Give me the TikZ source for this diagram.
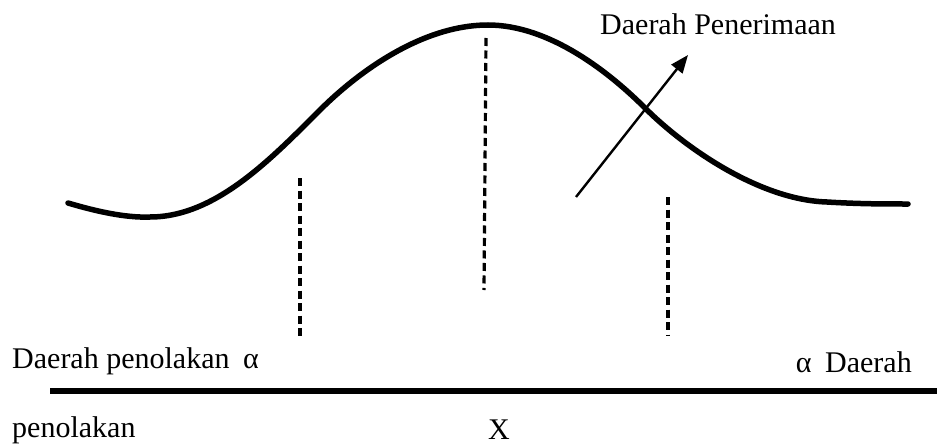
\documentclass[tikz,border=0pt]{standalone}
\usepackage{fontspec}
\setmainfont{Liberation Serif}
\usetikzlibrary{arrows.meta}
\tikzset{
  lbl/.style={inner sep=0pt, font=\fontsize{30}{36}\selectfont},
  curve/.style={line width=5.5pt, line cap=round},
  guide/.style={line width=3.2pt, dash pattern=on 8pt off 4.5pt},
  axis/.style={line width=5.5pt},
  pointer/.style={line width=2.4pt, -{Triangle[length=18pt,width=14pt]}}
}
\begin{document}
\begin{tikzpicture}[x=1pt,y=-1pt]
\useasboundingbox (0,0) rectangle (937,444);
% bell curve
\draw[curve] (68,203) .. controls (95,211) and (125,218) .. (150,217)
  .. controls (215,217) and (270,160) .. (320,110)
  .. controls (355,75) and (420,25) .. (488,25)
  .. controls (550,25) and (610,73) .. (645,108)
  .. controls (685,148) and (760,200) .. (827,202)
  .. controls (860,204) and (885,204) .. (908,204);
% dashed guides
\coordinate (l1) at (300,178); \coordinate (l2) at (300,340);
\coordinate (c1) at (486,38);  \coordinate (c2) at (484,290);
\coordinate (r1) at (668,197); \coordinate (r2) at (668,335);
\draw[guide] (l1) -- (l2);
\draw[guide] (c1) -- (c2);
\draw[guide] (r1) -- (r2);
% arrow
\coordinate (a1) at (576,197);
\coordinate (a2) at (688,55);
\draw[pointer] (a1) -- (a2);
% axis
\coordinate (h1) at (50,391);
\coordinate (h2) at (937,391);
\draw[axis] (h1) -- (h2);
% labels
\node[lbl, anchor=base west] (acc) at (600,35) {Daerah Penerimaan};
\node[lbl, anchor=base west] (rejl) at (12,368) {Daerah penolakan\hspace{0.45em}α};
\node[lbl, anchor=base east] (rejr) at (912,372) {α\hspace{0.45em}Daerah};
\node[lbl, anchor=base west] (rejl2) at (12,437) {penolakan};
\node[lbl, anchor=base] (x) at (499,439) {X};
\end{tikzpicture}
\end{document}
